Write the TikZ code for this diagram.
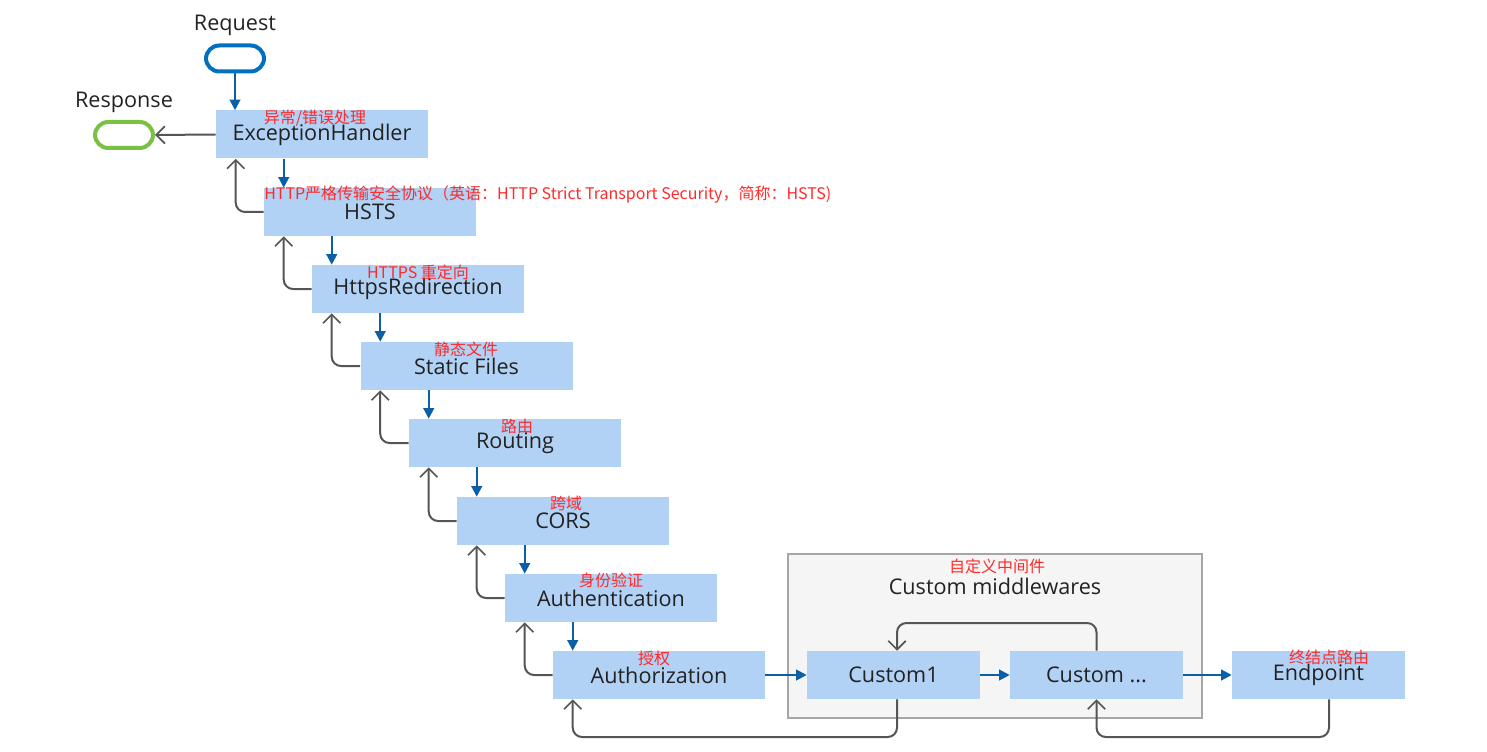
\documentclass[tikz,border=0pt]{standalone}
\usepackage{fontspec}
\setmainfont{Open Sans}
\newfontfamily\cjk{Noto Sans CJK SC}
\usetikzlibrary{arrows.meta,calc}
\definecolor{boxblue}{HTML}{B1D1F5}
\definecolor{txtdark}{HTML}{222222}
\definecolor{flowblue}{HTML}{0A5FA6}
\definecolor{retgray}{HTML}{555555}
\definecolor{labred}{HTML}{FF2A2A}
\definecolor{pillblue}{HTML}{0070C0}
\definecolor{pillgreen}{HTML}{7AC143}
\definecolor{grpfill}{HTML}{F5F5F5}
\definecolor{grpdraw}{HTML}{A6A6A6}
\tikzset{
  mw/.style={fill=boxblue, minimum width=159pt, minimum height=36pt, inner sep=0pt,
    font=\fontsize{16.2}{19}\selectfont, text=txtdark},
  cw/.style={mw, minimum width=129.75pt},
  redlab/.style={text=labred, font=\cjk\fontsize{12}{13}\selectfont, inner sep=0pt},
  pill/.style={rounded corners=10pt, minimum width=43.5pt, minimum height=19.5pt, line width=3pt, inner sep=0pt},
  ttl/.style={font=\fontsize{16.2}{19}\selectfont, text=txtdark, inner sep=0pt},
  fwd/.style={draw=flowblue, line width=1.6pt, -{Triangle[length=8pt,width=8pt]}},
  ret/.style={draw=retgray, line width=1.5pt, rounded corners=7pt, -{Straight Barb[length=6.5pt,width=13pt,line width=1.3pt]}}
}
\begin{document}
\begin{tikzpicture}[x=0.75pt,y=-0.75pt]
\useasboundingbox (0,0) rectangle (1487,752);
% group
\node[fill=grpfill, draw=grpdraw, line width=1pt, minimum width=310.5pt, minimum height=123pt, inner sep=0pt] (grp) at (995,636) {};
\node[ttl] (grpt) at (995,586) {Custom middlewares};
\node[redlab] (grpl) at (997,566) {自定义中间件};
% pills
\node[ttl] (reqt) at (235,25.5) {Request};
\node[pill, draw=pillblue] (req) at (235,58.5) {};
\node[ttl] (rest) at (124,102.5) {Response};
\node[pill, draw=pillgreen] (res) at (124,135) {};
% boxes
\node[mw] (eh) at (322,134.5) {\raisebox{-3.5pt}{ExceptionHandler}};
\node[mw] (hsts) at (370,212) {\raisebox{-2pt}{HSTS}};
\node[mw] (https) at (418,289) {\raisebox{-2.5pt}{HttpsRedirection}};
\node[mw] (static) at (466.5,366) {\raisebox{-2pt}{Static Files}};
\node[mw] (routing) at (515,443) {\raisebox{-2pt}{Routing}};
\node[mw] (cors) at (563,521) {\raisebox{-2pt}{CORS}};
\node[mw] (authn) at (611,598) {\raisebox{-2pt}{Authentication}};
\node[mw] (authz) at (659,675) {\raisebox{-2pt}{Authorization}};
\node[cw] (c1) at (893.5,675) {Custom1};
\node[cw] (cx) at (1096.5,675) {Custom ...};
\node[cw] (ep) at (1318.5,675) {\raisebox{-3pt}{Endpoint}};
% red labels
\node[redlab] (l1) at (315,118) {异常/错误处理};
\node[redlab, anchor=west] (l2) at (264,195) {HTTP严格传输安全协议（英语：HTTP Strict Transport Security，简称：HSTS)};
\node[redlab] (l3) at (418,272) {HTTPS 重定向};
\node[redlab] (l4) at (466,349) {静态文件};
\node[redlab] (l5) at (517,426) {路由};
\node[redlab] (l6) at (566,503) {跨域};
\node[redlab] (l7) at (611,580) {身份验证};
\node[redlab] (l8) at (654,658) {授权};
\node[redlab] (l9) at (1329,657) {终结点路由};
% forward arrows
\draw[fwd] (req.south) -- (req.south |- eh.north);
\foreach \a/\b in {eh/hsts, hsts/https, https/static, static/routing, routing/cors, cors/authn, authn/authz}{
  \draw[fwd] ($(\b.north west)+(20,0)$) coordinate (t) (t |- \a.south) -- (t);
}
\draw[fwd] (authz.east) -- (c1.west);
\draw[fwd] (c1.east) -- (cx.west);
\draw[fwd] (cx.east) -- (ep.west);
% return arrows
\draw[ret] (eh.west) -- (res.east);
\foreach \a/\b in {eh/hsts, hsts/https, https/static, static/routing, routing/cors, cors/authn, authn/authz}{
  \draw[ret] (\b.west) -| ($(\a.south west)+(20,0)$);
}
\coordinate (lowy) at (0,737);
\coordinate (topy) at (0,623);
\draw[ret] ($(c1.south)+(3.5,0)$) coordinate (s1) -- (s1 |- lowy) -| ($(authz.south west)+(20,0)$);
\draw[ret] ($(ep.south)+(10.5,0)$) coordinate (s2) -- (s2 |- lowy) -| (cx.south);
\draw[ret] (cx.north) -- (cx.north |- topy) -| ($(c1.north)+(3.5,0)$);
\end{tikzpicture}
\end{document}
